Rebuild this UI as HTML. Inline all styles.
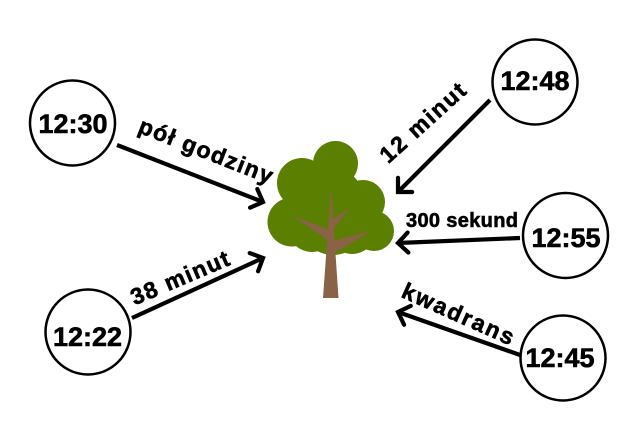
<!DOCTYPE html>
<html>
<head>
<meta charset="utf-8">
<style>
  html, body { margin: 0; padding: 0; background: #fff; }
  svg { display: block; }
  text { font-family: "Liberation Sans", "DejaVu Sans", sans-serif; font-weight: bold; fill: #000; }
</style>
</head>
<body>
<svg width="640" height="441" viewBox="0 0 640 441" xmlns="http://www.w3.org/2000/svg">
  <defs>
    <marker id="ah" viewBox="-16 -16 20 32" refX="0" refY="0" markerWidth="20" markerHeight="32" markerUnits="userSpaceOnUse" orient="auto" overflow="visible">
      <path d="M-10,-10 L0,0 L-10,10" fill="none" stroke="#000" stroke-width="4.2" stroke-linecap="round" stroke-linejoin="miter"/>
    </marker>
  </defs>
  <rect width="640" height="441" fill="#fff"/>

  <!-- Tree canopy -->
  <g fill="#5b7f01">
    <circle cx="335.5" cy="163.5" r="22.5"/>
    <circle cx="302" cy="183" r="25"/>
    <circle cx="363" cy="202" r="22"/>
    <circle cx="292" cy="222" r="24.5"/>
    <circle cx="374" cy="231" r="20"/>
    <circle cx="333" cy="222" r="33"/>
    <circle cx="332" cy="200" r="32"/>
    <circle cx="352" cy="230" r="24"/>
    <circle cx="312" cy="228" r="24"/>
  </g>
  <!-- Trunk and branches -->
  <g fill="#8a6246">
    <polygon points="331,187 323,298 338.5,298"/>
    <polygon points="293,216 328,229 329,241"/>
    <polygon points="349,208 330,221 331,233"/>
    <polygon points="371,231 332,241 333,254"/>
  </g>

  <!-- Arrows -->
  <g stroke="#000" stroke-width="4.2" fill="none" marker-end="url(#ah)">
    <line x1="117" y1="145" x2="263" y2="202"/>
    <line x1="490" y1="100" x2="398" y2="192"/>
    <line x1="132" y1="318" x2="263" y2="258"/>
    <line x1="520" y1="238" x2="398" y2="243"/>
    <line x1="520" y1="355" x2="398" y2="312"/>
  </g>

  <!-- Clocks -->
  <g fill="#fff" stroke="#000" stroke-width="2.5">
    <circle cx="72.5" cy="123" r="42.5"/>
    <circle cx="535" cy="82" r="42.5"/>
    <circle cx="88" cy="332" r="42.5"/>
    <circle cx="565.5" cy="235.5" r="42.5"/>
    <circle cx="563" cy="358" r="42.5"/>
  </g>
  <g font-size="27" text-anchor="middle" stroke="#000" stroke-width="0.6">
    <text x="73" y="133">12:30</text>
    <text x="535" y="90">12:48</text>
    <text x="87.5" y="346">12:22</text>
    <text x="566" y="247">12:55</text>
    <text x="560" y="367">12:45</text>
  </g>

  <!-- Labels -->
  <g stroke="#000" stroke-width="0.6">
    <text font-size="23" x="137" y="132" transform="rotate(21.5 137 132)" textLength="142" lengthAdjust="spacing">pół godziny</text>
    <text font-size="23" x="428" y="128.5" text-anchor="middle" transform="rotate(-42 428 128.5)" textLength="107" lengthAdjust="spacing">12 minut</text>
    <text font-size="23" x="183" y="285" text-anchor="middle" transform="rotate(-23 183 285)" textLength="105" lengthAdjust="spacing">38 minut</text>
    <text font-size="20" x="406" y="227" textLength="112" lengthAdjust="spacing">300 sekund</text>
    <text font-size="23" x="455" y="321" text-anchor="middle" transform="rotate(24 455 321)" textLength="120" lengthAdjust="spacing">kwadrans</text>
  </g>
</svg>
</body>
</html>
